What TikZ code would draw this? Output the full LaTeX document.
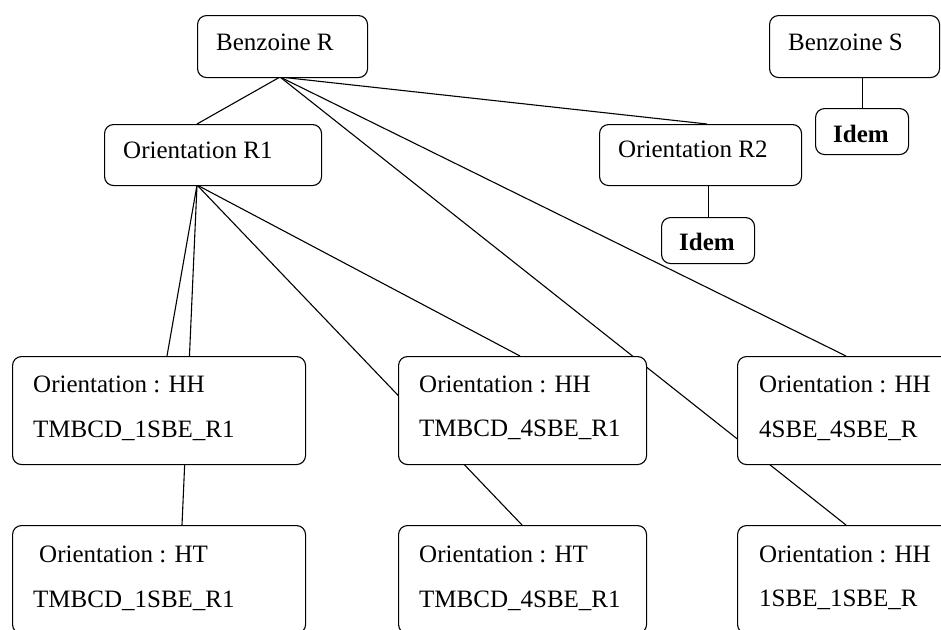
\documentclass[tikz,border=0pt]{standalone}
\usepackage{fontspec}
\setmainfont{Liberation Serif}
\pgfdeclarelayer{background}
\pgfsetlayers{background,main}
\begin{document}
\begin{tikzpicture}[x=1pt,y=-1pt,
  box/.style={draw=black,fill=white,line width=1.1pt,rounded corners=9pt,
    rectangle,inner sep=0pt,anchor=north west},
  lbl/.style={anchor=base west,inner sep=0pt,font=\fontsize{25}{30}\selectfont},
  blbl/.style={lbl,font=\fontsize{25}{30}\selectfont\bfseries},
  conn/.style={draw=black,line width=1.1pt}]
\useasboundingbox (0,0) rectangle (941,629);
\begin{scope}
\clip (0,0) rectangle (941,629);
% boxes
\node[box,minimum width=170pt,minimum height=62pt] (br) at (197,15) {};
\node[box,minimum width=170pt,minimum height=62pt] (bs) at (769,15) {};
\node[box,minimum width=93pt,minimum height=46pt] (idemS) at (815,108) {};
\node[box,minimum width=217pt,minimum height=61pt] (r1) at (104,124) {};
\node[box,minimum width=202pt,minimum height=61pt] (r2) at (599,124) {};
\node[box,minimum width=93pt,minimum height=46pt] (idemR) at (661,217) {};
\node[box,minimum width=293pt,minimum height=108pt] (hh1) at (12,356) {};
\node[box,minimum width=248pt,minimum height=108pt] (hh2) at (398,356) {};
\node[box,minimum width=248pt,minimum height=108pt] (hh3) at (737,356) {};
\node[box,minimum width=293pt,minimum height=108pt] (ht1) at (12,525) {};
\node[box,minimum width=248pt,minimum height=108pt] (ht2) at (398,525) {};
\node[box,minimum width=248pt,minimum height=108pt] (hh4) at (737,525) {};
% texts
\node[lbl] (tbr) at (216,50) {Benzoine R};
\node[lbl] (tbs) at (788,50) {Benzoine S};
\node[blbl] (tis) at (833,142) {Idem};
\node[lbl] (tr1) at (123,158) {Orientation R1};
\node[lbl] (tr2) at (618,157) {Orientation R2};
\node[blbl] (tir) at (679,250) {Idem};
\node[lbl] (t1a) at (33,392) {Orientation : HH};
\node[lbl] (t1b) at (33,437) {TMBCD\_1SBE\_R1};
\node[lbl] (t2a) at (419,392) {Orientation : HH};
\node[lbl] (t2b) at (419,436) {TMBCD\_4SBE\_R1};
\node[lbl] (t3a) at (759,392) {Orientation : HH};
\node[lbl] (t3b) at (759,437) {4SBE\_4SBE\_R};
\node[lbl] (t4a) at (39,562) {Orientation : HT};
\node[lbl] (t4b) at (33,607) {TMBCD\_1SBE\_R1};
\node[lbl] (t5a) at (419,562) {Orientation : HT};
\node[lbl] (t5b) at (419,607) {TMBCD\_4SBE\_R1};
\node[lbl] (t6a) at (759,562) {Orientation : HH};
\node[lbl] (t6b) at (759,606) {1SBE\_1SBE\_R};
% attach points
\coordinate (brb) at (280,77);
\coordinate (r1t) at (197,124);
\coordinate (r1b) at (197,185);
\coordinate (r2t) at (707,124);
\coordinate (hh1t) at (167,356);
\coordinate (hh2t) at (520,356);
\coordinate (hh3t) at (846,356);
\coordinate (ht1t) at (182,525);
\coordinate (ht2t) at (522,525);
\coordinate (hh4t) at (846,525);
% connectors
\begin{pgfonlayer}{background}
\draw[conn] (brb) -- (r1t);
\draw[conn] (brb) -- (r2t);
\draw[conn] (brb) -- (hh3t);
\draw[conn] (brb) -- (hh4t);
\draw[conn] (r1b) -- (hh1t);
\draw[conn] (r1b) -- (ht1t);
\draw[conn] (r1b) -- (hh2t);
\draw[conn] (r1b) -- (ht2t);
\draw[conn] (idemS.north) -- (idemS.north |- bs.south);
\draw[conn] (idemR.north) -- (idemR.north |- r2.south);
\end{pgfonlayer}
\end{scope}
\end{tikzpicture}
\end{document}
